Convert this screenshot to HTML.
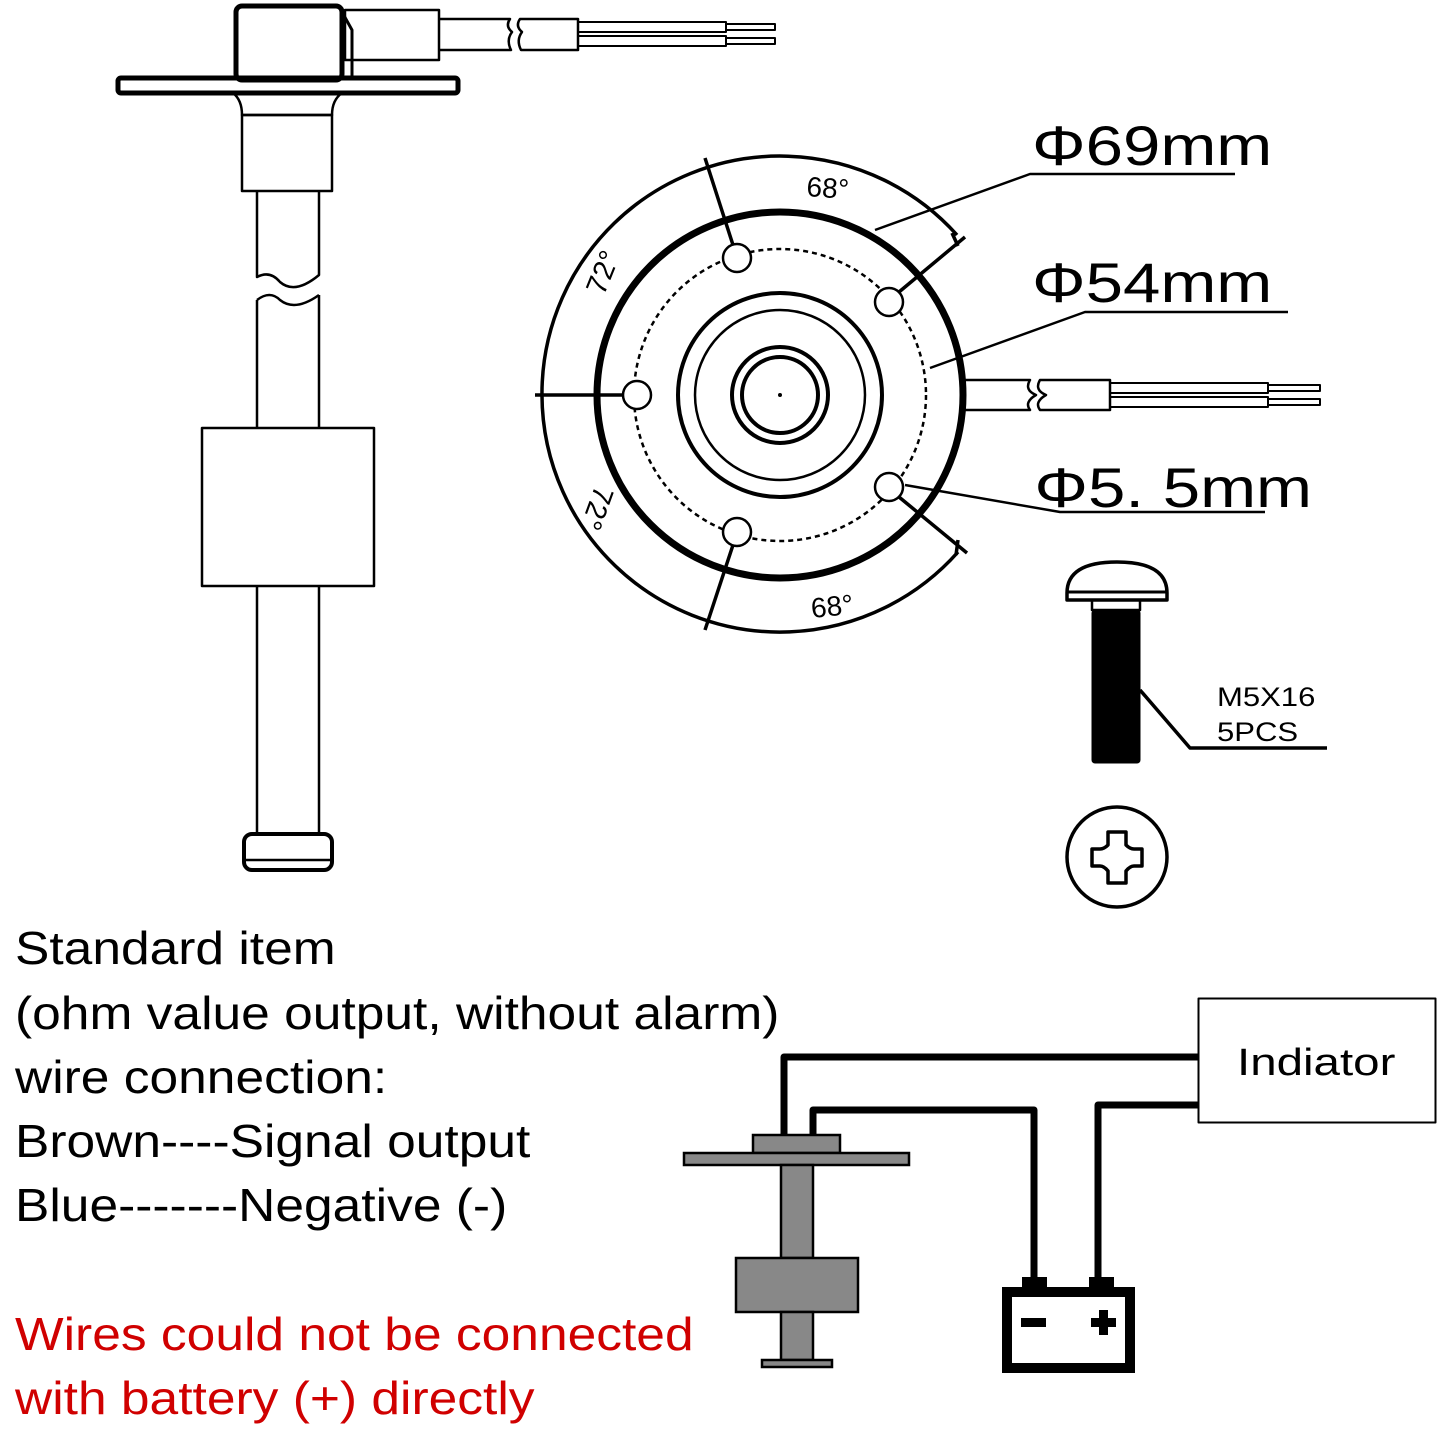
<!DOCTYPE html>
<html><head><meta charset="utf-8"><style>
html,body{margin:0;padding:0;background:#fff;overflow:hidden;width:1440px;height:1429px}
svg{display:block}
text{font-family:"Liberation Sans",Arial,sans-serif}
</style></head><body>
<svg width="1440" height="1429" viewBox="0 0 1440 1429" xmlns="http://www.w3.org/2000/svg">
<g fill="none" stroke="#000" stroke-linejoin="round">
<rect x="236" y="6" width="106" height="74" rx="6" stroke-width="5"/>
<path d="M342 12 L352 30 L352 78" stroke-width="3"/>
<rect x="345" y="10" width="94" height="50" stroke-width="2.5"/>
<path d="M439 19 L510 19 Q505 26 512 32 Q506 40 511 50 L439 50" stroke-width="2.5"/>
<path d="M520 19 Q515 26 522 32 Q516 40 521 50 L578 50 L578 19 Z" stroke-width="2.5"/>
<path d="M578 22 L726 22 L726 32 L578 32 M578 36 L726 36 L726 46 L578 46 M726 24 L775 24 L775 30 L726 30 M726 38 L775 38 L775 44 L726 44" stroke-width="2"/>
<rect x="118" y="78" width="340" height="15" rx="3" stroke-width="5"/>
<path d="M233 93 Q242 100 242 115 L332 115 Q332 100 342 93" stroke-width="2.5"/>
<rect x="242" y="115" width="90" height="76" stroke-width="2.5"/>
<path d="M257 191 L257 277 Q270 270 280 282 Q295 295 319 275 L319 191" stroke-width="2.5"/>
<path d="M257 300 Q270 290 280 300 Q295 312 319 295 M257 300 L257 428 M319 295 L319 428" stroke-width="2.5"/>
<rect x="202" y="428" width="172" height="158" stroke-width="2.5"/>
<path d="M257 586 L257 834 M319 586 L319 834" stroke-width="2.5"/>
<rect x="244" y="834" width="88" height="36" rx="8" stroke-width="4"/>
<path d="M244 860 L332 860" stroke-width="2.5"/>

<path d="M957 235 A238 238 0 1 0 958 552" stroke-width="3.5"/>
<circle cx="780" cy="395" r="183" stroke-width="7"/>
<circle cx="780" cy="395" r="146" stroke-width="2.5" stroke-dasharray="5 4"/>
<circle cx="780" cy="395" r="102" stroke-width="4"/>
<circle cx="780" cy="395" r="85" stroke-width="2.5"/>
<circle cx="780" cy="395" r="48" stroke-width="4"/>
<circle cx="780" cy="395" r="38" stroke-width="4"/>
<circle cx="780" cy="395" r="1.5" fill="#000"/>
<g stroke-width="2.5" fill="#fff">
<circle cx="737" cy="258" r="14"/><circle cx="889" cy="302" r="14"/><circle cx="637" cy="395" r="14"/><circle cx="737" cy="532" r="14"/><circle cx="889" cy="487" r="14"/>
</g>
<g stroke-width="3.5">
<path d="M733 245 L705 158"/>
<path d="M899 292 L965 237 M952 233 L958 246"/>
<path d="M623 395 L535 395"/>
<path d="M733 545 L705 630"/>
<path d="M899 497 L967 553 M958 540 L956 555"/>
</g>
<path d="M963 380 L1030 380 Q1024 390 1036 395 Q1024 402 1030 410 L963 410 M1040 380 Q1034 390 1046 395 Q1034 402 1040 410 L1110 410 L1110 380 Z" stroke-width="2.5"/>
<path d="M1110 383 L1268 383 L1268 393 L1110 393 M1110 397 L1268 397 L1268 407 L1110 407 M1268 385 L1320 385 L1320 391 L1268 391 M1268 399 L1320 399 L1320 405 L1268 405" stroke-width="2"/>
<path d="M875 230 L1030 174 L1235 174" stroke-width="2.5"/>
<path d="M930 368 L1085 312 L1288 312" stroke-width="2.5"/>
<path d="M905 485 L1060 512 L1265 512" stroke-width="2.5"/>

<path d="M1067 593 Q1067 562 1117 562 Q1167 562 1167 593 L1167 600 L1067 600 Z" stroke-width="3.5"/>
<path d="M1068 592 L1166 592" stroke-width="3"/>
<rect x="1092" y="600" width="48" height="10" stroke-width="2.5"/>
<rect x="1092" y="610" width="48" height="153" rx="3" fill="#000"/>
<path d="M1140 690 L1190 748 L1327 748" stroke-width="3.5"/>
<circle cx="1117" cy="857" r="50" stroke-width="3.5"/>
<path d="M1108 832 L1126 832 L1126 845 Q1130 849 1134 849 L1142 849 L1142 866 L1134 866 Q1130 866 1126 871 L1126 883 L1108 883 L1108 871 Q1104 866 1100 866 L1092 866 L1092 849 L1100 849 Q1104 849 1108 845 Z" stroke-width="3.5"/>

<path d="M784 1138 L784 1057 L1198 1057" stroke-width="7"/>
<path d="M813 1138 L813 1110 L1034 1110 L1034 1280" stroke-width="7"/>
<path d="M1098 1280 L1098 1105 L1198 1105" stroke-width="7"/>
<rect x="1198.5" y="998.5" width="237" height="124" stroke-width="2"/>
</g>
<g fill="#888" stroke="#000" stroke-width="2.5">
<rect x="753" y="1135" width="87" height="18"/>
<rect x="684" y="1153" width="225" height="12"/>
<rect x="781" y="1165" width="32" height="93"/>
<rect x="736" y="1258" width="122" height="54"/>
<rect x="781" y="1312" width="32" height="48"/>
<rect x="762" y="1360" width="70" height="7"/>
</g>
<rect x="1007" y="1292" width="123" height="76" fill="none" stroke="#000" stroke-width="10"/>
<rect x="1022" y="1277" width="25" height="14" fill="#000"/>
<rect x="1089" y="1277" width="25" height="14" fill="#000"/>
<rect x="1021" y="1318" width="25" height="9" fill="#000"/>
<rect x="1091" y="1318" width="25" height="9" fill="#000"/>
<rect x="1099" y="1310" width="9" height="25" fill="#000"/>

<g fill="#000">
<g transform="translate(1032 0) scale(1.2 1)" font-size="56">
<text x="0" y="165">Φ69mm</text>
<text x="0" y="302">Φ54mm</text>
<text x="2" y="507">Φ5. 5mm</text>
</g>
<text x="806" y="196" font-size="28" transform="rotate(4 806 196)">68°</text>
<text x="812" y="618" font-size="28" transform="rotate(-6 812 618)">68°</text>
<text font-size="29" text-anchor="middle" transform="translate(612 276) rotate(-68)">72°</text>
<text font-size="29" text-anchor="middle" transform="translate(588 505) rotate(110)">72°</text>
<g transform="translate(1217 0) scale(1.15 1)" font-size="27">
<text x="0" y="706">M5X16</text>
<text x="0" y="741">5PCS</text>
</g>
<text font-size="38" transform="translate(1237 1075) scale(1.25 1)">Indiator</text>
<g font-size="46" transform="translate(15 0) scale(1.12 1)">
<text x="0" y="964">Standard item</text>
<text x="0" y="1029">(ohm value output, without alarm)</text>
<text x="0" y="1093">wire connection:</text>
<text x="0" y="1157">Brown----Signal output</text>
<text x="0" y="1221">Blue-------Negative (-)</text>
<text x="0" y="1350" fill="#d00000">Wires could not be connected</text>
<text x="0" y="1414" fill="#d00000">with battery (+) directly</text>
</g>
</g>
</svg>
</body></html>
